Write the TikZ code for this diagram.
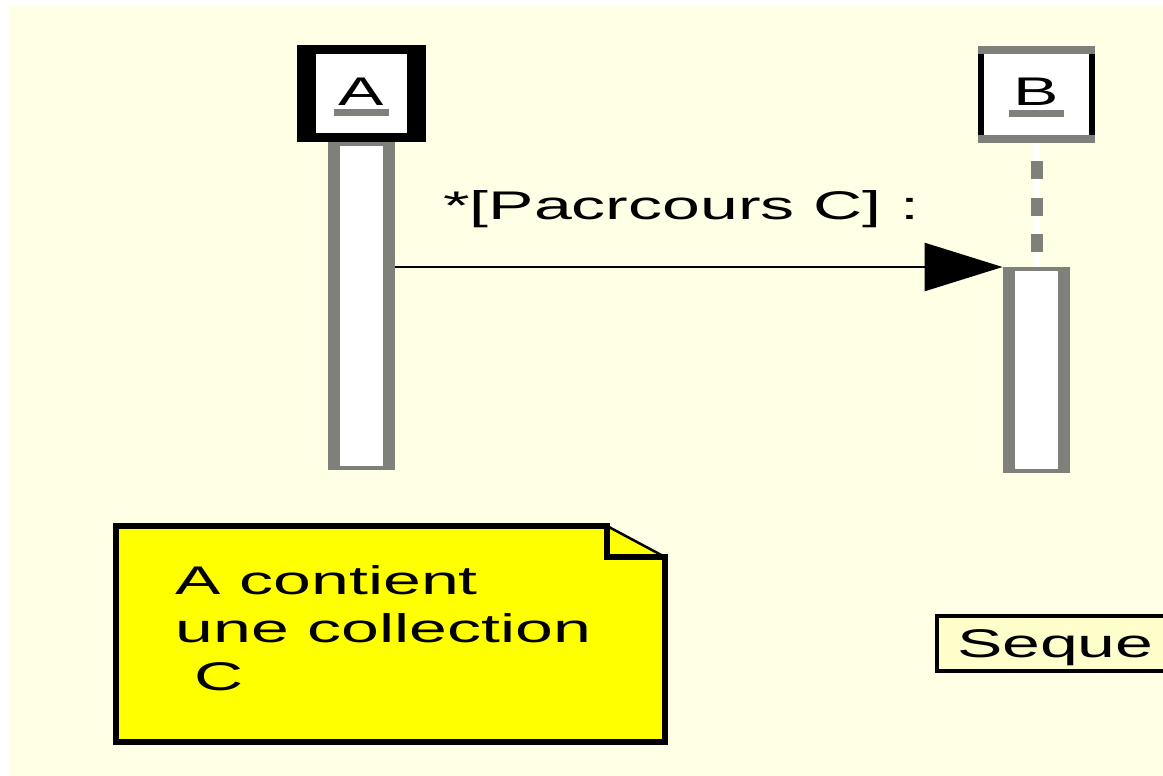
\documentclass[tikz,border=0pt]{standalone}
\usepackage{fontspec}
\setmainfont{Liberation Sans}
\newfontfamily\umlfont[FakeStretch=1.7]{Liberation Sans}
\usetikzlibrary{arrows.meta}

\definecolor{bgyellow}{RGB}{255,255,230}
\definecolor{noteyellow}{RGB}{255,255,0}
\definecolor{titleyellow}{RGB}{255,255,204}
\definecolor{umlgray}{RGB}{128,128,122}

\newcommand{\headbar}{\fill[umlgray] ([xshift=-13.75pt,yshift=-7.75pt]path picture bounding box.center) rectangle ([xshift=13.75pt,yshift=-11.25pt]path picture bounding box.center);}

\tikzset{
        head/.style={rectangle, inner sep=0pt, minimum height=48.5pt, text height=14.5pt, text depth=3pt},
        boldhead/.style={head, minimum width=64.5pt, fill=black,
                path picture={\fill[white] ([shift={(9.5pt,-4.5pt)}]path picture bounding box.north west) rectangle ([shift={(-9.5pt,4.5pt)}]path picture bounding box.south east); \headbar}},
        plainhead/.style={head, minimum width=58.5pt, fill=umlgray,
                path picture={\fill[black] ([yshift=-4pt]path picture bounding box.north west) rectangle ([yshift=4pt]path picture bounding box.south east);
                        \fill[white] ([shift={(3pt,-4pt)}]path picture bounding box.north west) rectangle ([shift={(-3pt,4pt)}]path picture bounding box.south east); \headbar}},
        activation/.style={rectangle, inner sep=0pt, minimum width=33.5pt, minimum height=#1, fill=umlgray,
                path picture={\fill[white] ([shift={(6pt,-2pt)}]path picture bounding box.north west) rectangle ([shift={(-6pt,2pt)}]path picture bounding box.south east);}},
        titlebox/.style={rectangle, draw=black, fill=titleyellow, line width=2pt, text width=140pt, align=left,
                inner xsep=10pt, inner ysep=0pt, minimum height=27.5pt, text height=14.5pt, text depth=0.5pt},
}

\begin{document}
\begin{tikzpicture}[x=0.5pt, y=-0.5pt, font={\umlfont\fontsize{20pt}{24pt}\selectfont}]
        \useasboundingbox (0,0) rectangle (1163,776);
        \clip (0,0) rectangle (1163,776);
        \fill[white] (0,0) rectangle (1163,776);
        \fill[bgyellow] (9,6) rectangle (1163,776);

        % lifelines
        \node[activation=164pt, anchor=north] (actA) at (361.5,142) {};
        \node[activation=103pt, anchor=north] (actB) at (1036.5,267) {};

        \node[boldhead] (A) at (361.5,93.5) {A};
        \node[plainhead] (B) at (1036.5,94) {B};

        \draw[white, line width=3pt] (B.south) -- (actB.north);
        \draw[umlgray, line width=6pt, dash pattern=on 9pt off 9.25pt, dash phase=9pt] (B.south) -- (actB.north);

        % message
        \draw[-{Triangle[length=39pt,width=24pt]}, line width=1.25pt] (actA.east |- actB.north west) -- (actB.north west);
        \node[anchor=base west, inner sep=0pt] (msg) at (443,219) {*[Pacrcours C] :};

        % note
        \fill[noteyellow] (116,526) -- (607,526) -- (665,557) -- (665,742) -- (116,742) -- cycle;
        \draw[line width=3pt, line join=miter] (607,526) -- (116,526) -- (116,742) -- (665,742) -- (665,557) -- (607,557) -- cycle;
        \draw[line width=1.25pt] (607,526) -- (665,557);
        \node[anchor=base west, inner sep=0pt, align=left] (note) at (175,690) {A contient\\une collection\\\mbox{ }C};

        \node[titlebox, anchor=west] (title) at (935,643.5) {Seque};
\end{tikzpicture}
\end{document}
